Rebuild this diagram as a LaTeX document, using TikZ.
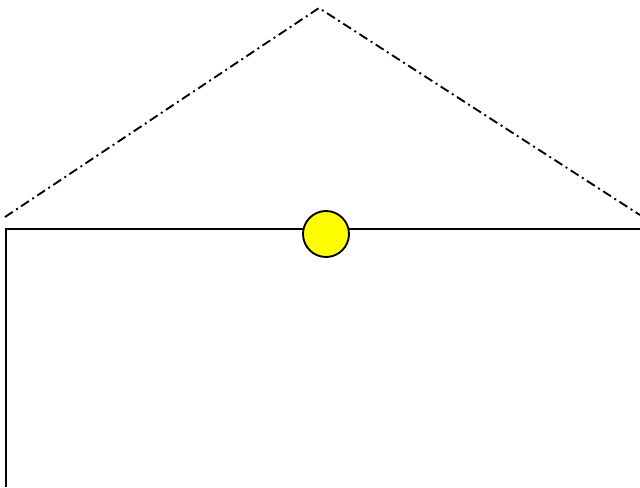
\documentclass[tikz,border=0pt]{standalone}
\usepackage{xcolor}
\usepackage{tikz}
\usetikzlibrary{positioning, calc}
\definecolor{sunyellow}{RGB}{255, 255, 0}

\begin{document}
\begin{tikzpicture}[x=0.75pt, y=-0.75pt,
    roofline/.style={line width=1.4pt, dash pattern=on 7pt off 3pt on 1.5pt off 3pt},
    wallline/.style={line width=1.4pt},
    sunball/.style={circle, draw, fill=sunyellow, line width=1.4pt, minimum size=46*0.75pt, inner sep=0pt}]
    \useasboundingbox (0,0) rectangle (640,487);
    % roof
    \coordinate (roofleft) at (5,217);
    \coordinate (roofapex) at (319,8);
    \coordinate (roofright) at (640,215);
    \draw[roofline] (roofleft) -- (roofapex) -- (roofright);
    % wall and ceiling
    \coordinate (wallfoot) at (6,487);
    \coordinate (wallcorner) at (6,229);
    \coordinate (ceilend) at (640,229);
    \draw[wallline] (wallfoot) -- (wallcorner) -- (ceilend);
    \node[sunball] (sun) at (326,234) {};
\end{tikzpicture}
\end{document}
